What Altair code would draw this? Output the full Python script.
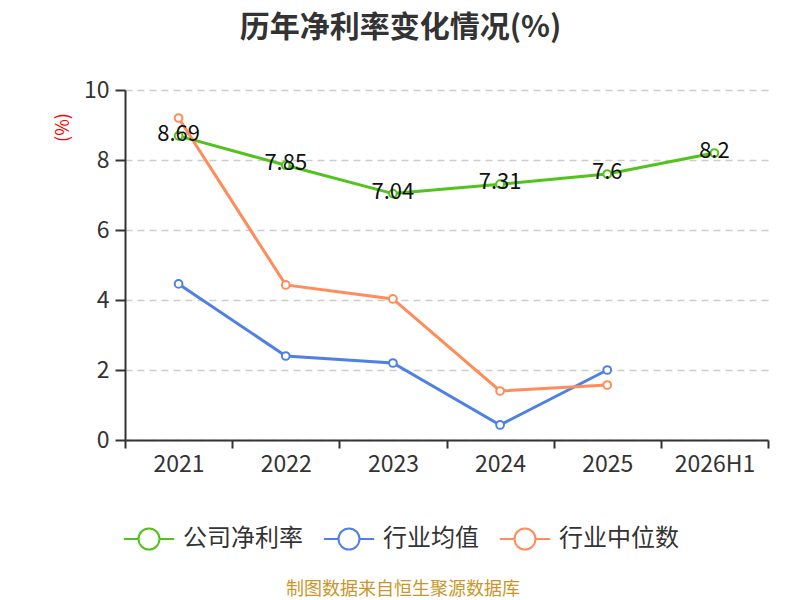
import altair as alt
import pandas as pd

years = ["2021", "2022", "2023", "2024", "2025", "2026H1"]
company = [8.69, 7.85, 7.04, 7.31, 7.6, 8.2]
company_labels = ["8.69", "7.85", "7.04", "7.31", "7.6", "8.2"]
industry_avg = [4.46, 2.40, 2.20, 0.43, 2.00]
industry_med = [9.20, 4.43, 4.03, 1.40, 1.57]
series_names = ["公司净利率", "行业均值", "行业中位数"]
series_colors = ["#52C21C", "#4E80E6", "#FF8C5A"]
title_text = "历年净利率变化情况(%)"
y_title = "(%)"
source_text = ["制图数据来自恒生聚源数据库"]

rows = []
for y, v, lab in zip(years, company, company_labels):
    rows.append({"year": y, "value": v, "series": series_names[0], "label": lab})
for y, v in zip(years, industry_avg):
    rows.append({"year": y, "value": v, "series": series_names[1], "label": ""})
for y, v in zip(years, industry_med):
    rows.append({"year": y, "value": v, "series": series_names[2], "label": ""})
df = pd.DataFrame(rows)

FONT = "Noto Sans CJK SC"
W, H = 643, 350
legend_path = "M-2.4,0L-1,0M1,0L2.4,0M-1,0A1,1 0 1,1 1,0A1,1 0 1,1 -1,0Z"

x_enc = alt.X(
    "year:N",
    sort=years,
    scale=alt.Scale(domain=years, paddingInner=0, paddingOuter=0),
    axis=alt.Axis(
        title=None,
        tickBand="extent",
        labelFontSize=23,
        labelColor="#333333",
        labelFont=FONT,
        labelPadding=5,
        tickSize=8,
        tickColor="#333333",
        tickWidth=2,
        domainColor="#333333",
        domainWidth=2,
        grid=False,
        labelAngle=0,
    ),
)
y_enc = alt.Y(
    "value:Q",
    scale=alt.Scale(domain=[0, 10], nice=False, zero=True),
    axis=alt.Axis(
        values=[0, 2, 4, 6, 8, 10],
        title=y_title,
        titleColor="red",
        titleFont=FONT,
        titleFontSize=18,
        titleFontWeight="normal",
        titleAngle=270,
        titleX=-62,
        titleY=37,
        titleAlign="center",
        titleBaseline="middle",
        labelFontSize=23,
        labelColor="#333333",
        labelFont=FONT,
        labelPadding=6,
        tickSize=10,
        tickColor="#333333",
        tickWidth=2,
        domainColor="#333333",
        domainWidth=2,
        grid=True,
        gridColor="#cccccc",
        gridDash=[7, 5],
        gridWidth=1.5,
    ),
)
color_enc = alt.Color(
    "series:N",
    sort=series_names,
    scale=alt.Scale(domain=series_names, range=series_colors),
    legend=alt.Legend(
        title=None,
        orient="none",
        direction="horizontal",
        legendX=12,
        legendY=437,
        symbolType=legend_path,
        symbolSize=441,
        symbolStrokeWidth=2,
        symbolFillColor="white",
        labelFont=FONT,
        labelFontSize=24,
        labelColor="#333333",
        labelOffset=22,
        columnPadding=16,
        gridAlign="none",
        padding=0,
    ),
)

lines = alt.Chart(df).mark_line(
    strokeWidth=3,
    point=alt.OverlayMarkDef(filled=False, fill="white", size=60, strokeWidth=2),
).encode(x=x_enc, y=y_enc, color=color_enc)

labels = alt.Chart(df[df["series"] == series_names[0]]).mark_text(
    font=FONT, fontSize=22, color="#111111", dy=-2, baseline="middle"
).encode(x=alt.X("year:N", sort=years), y=alt.Y("value:Q"), text="label:N")

source = alt.Chart(pd.DataFrame({"t": source_text})).mark_text(
    font=FONT, fontSize=18, color="#C9962B", baseline="middle", align="center"
).encode(text="t:N", x=alt.value(278), y=alt.value(500))

chart = alt.layer(lines, labels, source).properties(
    width=W,
    height=H,
    autosize=alt.AutoSizeParams(type="none"),
    padding={"left": 117, "top": 82, "right": 8, "bottom": 162},
    title=alt.TitleParams(
        text=title_text,
        font=FONT,
        fontSize=30,
        fontWeight="bold",
        color="#333333",
        anchor="middle",
        dx=-46,
        offset=36,
    ),
).configure_view(stroke=None)

chart.save("out.html", embed_options={"renderer": "svg", "actions": False})
